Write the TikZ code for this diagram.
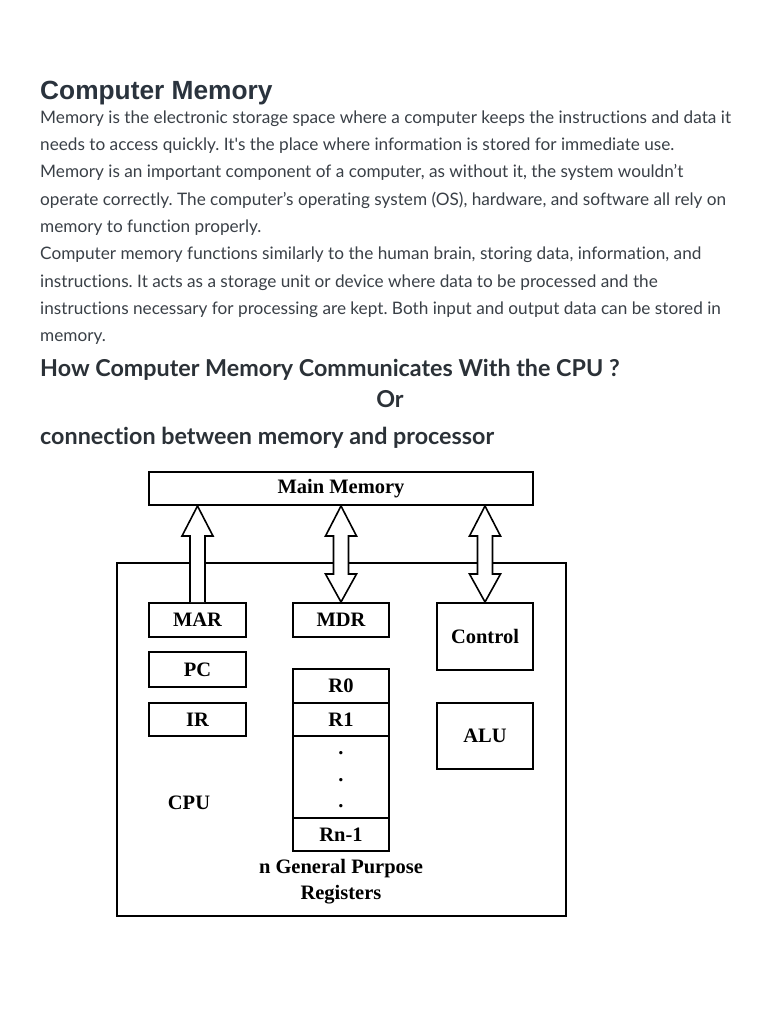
\documentclass[tikz,border=0pt]{standalone}
\usepackage{fontspec}
\setmainfont{Liberation Serif}
\newfontfamily\bodyfont[Ligatures=NoCommon]{Lato}
\newfontfamily\titlefont{Liberation Sans}
\usetikzlibrary{calc}
\definecolor{titlecol}{HTML}{2A333D}
\definecolor{bodycol}{HTML}{3A4047}
\definecolor{headcol}{HTML}{2B3137}
\frenchspacing
\begin{document}
\begin{tikzpicture}[x=1pt,y=-1pt,
  bodytxt/.style={anchor=base west,inner sep=0,text=bodycol,font=\bodyfont\fontsize{17.2}{20}\selectfont},
  headtxt/.style={anchor=base west,inner sep=0,text=headcol,font=\bodyfont\bfseries\fontsize{23.3}{26}\selectfont},
  regbox/.style={draw,line width=2pt,inner sep=0,font=\bfseries\fontsize{20.5}{22}\selectfont,fill=white},
  blk/.style={draw,line width=1.6pt,fill=white,line join=miter},
  lbl/.style={inner sep=0,font=\bfseries\fontsize{20.5}{22}\selectfont}]
\useasboundingbox[fill=white] (0,0) rectangle (768,1024);
% ---- text ----
\node[anchor=base west,inner sep=0,text=titlecol,font=\titlefont\bfseries\fontsize{26.3}{30}\selectfont] (title) at (40,100) {Computer Memory};
\node[bodytxt] (l1) at (40,124) {Memory is the electronic storage space where a computer keeps the instructions and data it};
\node[bodytxt] (l2) at (40,151) {needs to access quickly. It's the place where information is stored for immediate use.};
\node[bodytxt] (l3) at (40,178) {Memory is an important component of a computer, as without it, the system wouldn’t};
\node[bodytxt] (l4) at (40,205.5) {operate correctly. The computer’s operating system (OS), hardware, and software all rely on};
\node[bodytxt] (l5) at (40,232.5) {memory to function properly.};
\node[bodytxt] (l6) at (40,259.5) {Computer memory functions similarly to the human brain, storing data, information, and};
\node[bodytxt] (l7) at (40,287.5) {instructions. It acts as a storage unit or device where data to be processed and the};
\node[bodytxt] (l8) at (40,314.5) {instructions necessary for processing are kept. Both input and output data can be stored in};
\node[bodytxt] (l9) at (40,341.5) {memory.};
\node[headtxt] (h1) at (40,376) {How Computer Memory Communicates With the CPU ?};
\node[headtxt,anchor=base] (h2) at (390,407) {Or};
\node[headtxt] (h3) at (40,444) {connection between memory and processor};
% ---- diagram ----
\node[draw,line width=2pt,minimum width=449,minimum height=353,inner sep=0] (cpu) at (341.5,739.5) {};
\node[regbox,minimum width=384,minimum height=33] (mm) at (341,488.5) {Main Memory};
\node[regbox,minimum width=97,minimum height=34] (mar) at (197.5,620) {MAR};
\node[regbox,minimum width=97,minimum height=35] (pc) at (197.5,669.5) {PC};
\node[regbox,minimum width=97,minimum height=33] (ir) at (197.5,719.5) {IR};
\node[regbox,minimum width=96,minimum height=34] (mdr) at (341,620) {MDR};
\node[regbox,minimum width=96,minimum height=67] (ctrl) at (485,636.5) {Control};
\node[regbox,minimum width=96,minimum height=66] (alu) at (485,736) {ALU};
\node[regbox,minimum width=96,minimum height=34] (r0) at (341,686) {R0};
\node[regbox,minimum width=96,minimum height=33] (r1) at (341,719.5) {R1};
\node[regbox,minimum width=96,minimum height=82] (rdots) at (341,777) {};
\node[regbox,minimum width=96,minimum height=33] (rn) at (341,834.5) {Rn-1};
\node[lbl] (d1) at (341,753) {.};
\node[lbl] (d2) at (341,780) {.};
\node[lbl] (d3) at (341,806) {.};
\node[lbl] (cpulbl) at (189,803) {CPU};
\node[lbl,align=center,font=\bfseries\fontsize{20.5}{26}\selectfont] (gpr) at (341,882) {n General Purpose\\Registers};
% ---- block arrows ----
\draw[blk] let \p1=(mm.south), \p2=(mar.north) in
  (\x2-7.5pt,\y2) -- (\x2-7.5pt,\y1-30pt) -- (\x2-15.5pt,\y1-30pt) -- (\x2,\y1)
  -- (\x2+15.5pt,\y1-30pt) -- (\x2+7.5pt,\y1-30pt) -- (\x2+7.5pt,\y2);
\foreach \nm in {mdr,ctrl}{
\draw[blk] let \p1=(mm.south), \p2=(\nm.north) in
  (\x2-7.5pt,\y1-30pt) -- (\x2-15.5pt,\y1-30pt) -- (\x2,\y1)
  -- (\x2+15.5pt,\y1-30pt) -- (\x2+7.5pt,\y1-30pt) -- (\x2+7.5pt,\y2+28pt)
  -- (\x2+15.5pt,\y2+28pt) -- (\x2,\y2) -- (\x2-15.5pt,\y2+28pt)
  -- (\x2-7.5pt,\y2+28pt) -- cycle;
}
\end{tikzpicture}
\end{document}
